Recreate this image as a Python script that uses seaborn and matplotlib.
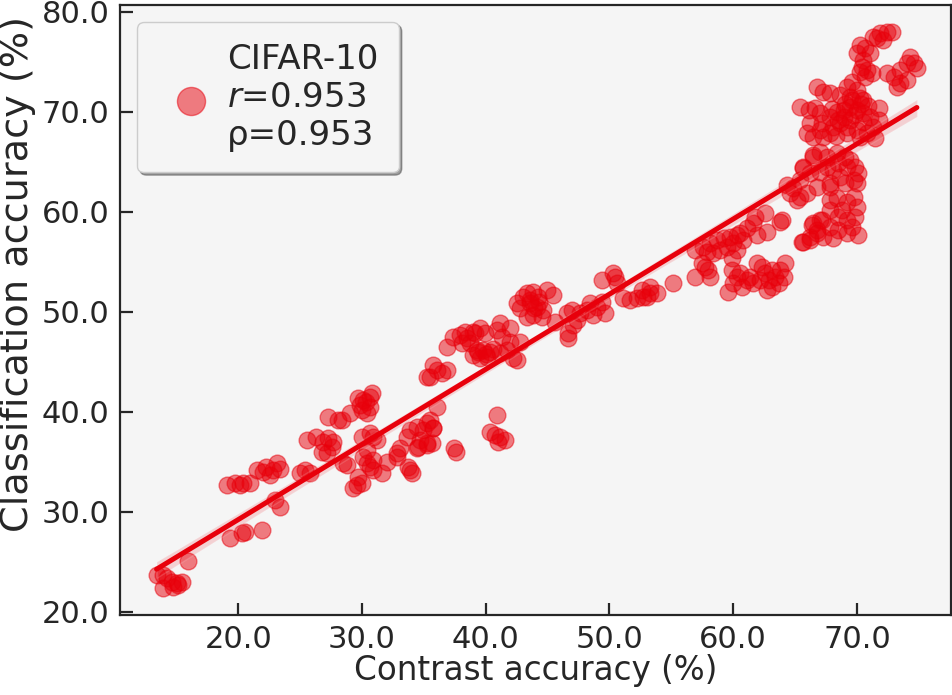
import matplotlib.pyplot as plt
import matplotlib.ticker as mticker
import numpy as np
import pandas as pd
import seaborn as sns

# Pontos, agrupados por região (x = contraste, y = classificação)
grupo_a_x = [13.4, 13.92, 14.62, 15.03, 15.43, 13.92, 14.73, 15.94, 14.24, 15.13]
grupo_a_y = [23.67, 23.67, 23.0, 22.87, 22.97, 22.37, 22.47, 25.07, 23.37, 22.67]

grupo_b_x = [19.07, 19.74, 20.39, 20.95, 21.5, 22.0, 22.57, 23.11, 23.38, 20.15, 22.25, 22.81,
             19.34, 20.28, 20.55, 21.9, 22.98, 23.38]
grupo_b_y = [32.67, 32.87, 32.87, 32.87, 34.17, 33.97, 33.67, 34.87, 34.27, 32.67, 34.47, 34.17,
             27.37, 27.87, 27.97, 28.17, 31.17, 30.47]

grupo_c_x = [25.54, 26.86, 27.26, 27.66, 27.56, 26.75, 27.15, 26.29, 25.0, 25.8, 25.4, 28.47, 28.8,
             27.26, 28.07, 28.39, 29.04, 29.85, 30.09, 30.65, 30.82, 30.41, 30.01, 30.65, 30.33, 29.68]
grupo_c_y = [37.17, 37.0, 37.37, 37.0, 36.5, 36.0, 35.87, 37.47, 33.87, 33.87, 34.17, 34.87, 34.67,
             39.47, 39.17, 39.17, 39.87, 40.67, 41.17, 41.47, 41.87, 39.87, 40.17, 40.47, 40.97, 41.37]

grupo_d_x = [29.98, 30.65, 30.9, 31.2, 30.39, 30.09, 30.39, 30.9, 30.65, 29.68, 29.58, 29.98, 29.28,
             30.9, 32.0, 31.6]
grupo_d_y = [37.5, 37.87, 37.5, 37.17, 36.17, 35.5, 34.87, 35.17, 34.5, 33.5, 32.67, 32.87, 32.37,
             34.17, 35.0, 33.87]

grupo_e_x = [32.81, 33.08, 33.62, 33.89, 34.43, 34.94, 34.7, 34.43, 35.24, 33.73, 33.89, 32.84,
             35.75, 34.53, 34.05, 36.05, 35.24, 35.51, 35.77, 35.64, 35.24, 37.4, 37.6,
             40.9, 40.36, 40.76, 41.16, 41.57, 41.0]
grupo_e_y = [35.87, 36.37, 37.5, 38.17, 38.5, 38.17, 37.17, 36.37, 36.87, 34.5, 34.17, 35.47,
             38.37, 36.47, 33.87, 40.5, 38.84, 39.17, 38.34, 36.84, 36.67, 36.4, 36.0,
             39.67, 38.0, 37.67, 37.5, 37.17, 37.0]

grupo_f_x = [35.51, 36.05, 36.45, 36.86, 35.75, 35.24,
             36.86, 37.39, 37.93, 38.47, 39.14, 39.55, 39.95, 38.74, 38.07, 39.28, 39.81, 40.36,
             41.16, 41.71, 42.24, 42.51, 41.97, 42.78, 41.16, 41.97, 40.9, 41.3, 40.09, 39.01,
             39.55, 39.4, 40.6, 38.3, 39.0, 40.0]
grupo_f_y = [43.5, 44.17, 43.87, 44.17, 44.67, 43.5,
             46.5, 47.5, 47.67, 47.34, 47.84, 48.34, 47.84, 46.84, 46.84, 46.17, 46.17, 46.0,
             45.84, 46.17, 45.34, 45.17, 47.0, 47.0, 48.84, 48.34, 48.17, 47.5, 45.5, 45.67,
             45.34, 46.0, 46.3, 48.0, 48.0, 45.8]

grupo_g_x = [42.51, 43.05, 43.32, 43.86, 44.26, 43.59, 44.13, 44.66, 43.86, 43.32, 42.78, 44.94,
             45.47, 44.54, 43.6, 43.9, 44.3, 45.61,
             46.56, 46.96, 47.36, 47.09, 46.69, 46.69, 47.63, 48.17, 48.44, 48.98, 49.39, 49.65, 48.71]
grupo_g_y = [50.84, 51.5, 51.84, 52.0, 51.5, 50.84, 50.5, 50.17, 49.67, 49.5, 50.34, 52.17,
             51.67, 49.5, 51.2, 50.4, 51.0, 49.0,
             49.84, 50.17, 49.17, 48.67, 47.84, 47.34, 49.84, 50.17, 50.84, 50.5, 51.0, 49.84, 49.67]

grupo_h_x = [49.39, 50.46, 50.6, 50.32, 51.13, 51.67, 52.22, 52.75, 53.29, 52.62, 53.83, 55.17,
             53.3, 53.0, 56.93, 57.74, 58.0, 58.14, 57.47]
grupo_h_y = [53.17, 53.5, 52.84, 53.84, 51.34, 51.17, 51.34, 51.5, 51.84, 52.17, 51.84, 52.84,
             52.5, 51.5, 53.5, 54.5, 54.17, 53.5, 54.84]

grupo_i_x = [56.93, 57.6, 58.14, 58.68, 59.22, 59.76, 60.3, 60.57, 60.02, 59.49, 58.95, 58.41,
             59.9, 60.3, 61.11, 61.64, 61.78, 62.59, 61.92, 62.72, 63.8, 60.83, 57.87]
grupo_i_y = [56.17, 56.5, 56.84, 57.17, 57.34, 57.5, 57.67, 57.84, 56.84, 56.5, 56.17, 55.84,
             55.34, 56.17, 58.34, 58.84, 59.5, 59.84, 57.67, 58.0, 59.0, 57.17, 56.0]

grupo_j_x = [59.62, 60.02, 60.3, 59.9, 60.7, 61.11, 61.64, 61.92, 62.32, 62.59, 62.86, 63.13,
             63.4, 63.8, 64.21, 64.07, 63.67, 62.72, 62.18, 61.37, 60.57, 63.13]
grupo_j_y = [52.0, 52.84, 53.5, 54.17, 52.5, 53.17, 52.84, 54.84, 54.5, 53.84, 53.17, 52.5,
             53.5, 54.17, 54.84, 53.5, 52.84, 52.17, 53.17, 53.5, 53.84, 54.17]

grupo_k_x = [65.68, 66.22, 66.77, 66.49, 67.17, 63.94, 64.61, 65.15, 67.84, 68.38, 69.19, 69.73,
             70.0, 69.87, 69.6, 70.13, 69.19, 68.51, 68.11, 67.3, 66.77, 66.22, 65.55, 67.03,
             68.51, 68.78, 67.84, 66.36, 69.19, 67.84]
grupo_k_y = [57.0, 57.5, 58.17, 58.84, 59.17, 59.17, 61.84, 61.17, 61.17, 61.34, 61.0, 61.5,
             60.5, 59.5, 58.5, 57.67, 57.84, 58.17, 57.34, 57.5, 57.84, 57.17, 57.0, 59.17,
             59.5, 60.17, 60.17, 58.67, 59.17, 58.5]

grupo_l_x = [66.49, 67.03, 67.58, 68.38, 69.05, 69.46, 69.87, 70.13, 69.73, 69.05, 68.65, 68.11,
             67.58, 67.03, 66.22, 65.68, 65.42, 64.87, 64.34, 65.42, 65.96, 66.77, 67.84, 67.84,
             69.19, 68.51, 70.0, 65.68, 66.49]
grupo_l_y = [65.67, 66.0, 65.5, 65.84, 65.5, 65.17, 64.5, 63.84, 63.17, 62.84, 63.5, 64.17,
             64.5, 64.0, 63.84, 64.34, 63.17, 62.34, 62.67, 61.5, 61.84, 62.5, 62.84, 62.5,
             64.5, 64.84, 62.84, 64.5, 65.5]

grupo_m_x = [65.42, 66.09, 66.63, 67.03, 66.22, 65.96, 66.49, 67.3, 67.84, 67.17, 67.84, 68.38,
             68.92, 69.46, 70.0, 70.53, 71.07, 71.75, 71.75, 71.34, 70.81, 70.27, 70.0, 69.19,
             68.65, 68.92, 69.46, 71.48, 68.11, 67.03, 68.5, 69.0, 69.8, 70.3, 69.6, 68.0,
             70.5, 69.2, 68.3, 70.9]
grupo_m_y = [70.5, 70.17, 70.34, 69.84, 68.84, 67.84, 67.5, 67.5, 67.84, 68.84, 69.5, 70.0,
             70.17, 70.5, 70.17, 69.84, 69.5, 70.34, 69.17, 68.5, 67.84, 67.5, 68.17, 68.5,
             68.84, 69.5, 69.17, 67.34, 68.5, 68.17, 69.2, 70.8, 69.7, 70.8, 71.2, 70.3,
             69.0, 67.9, 67.6, 70.6]

grupo_n_x = [71.34, 71.88, 72.43, 72.83, 72.15, 71.62, 70.27, 70.0, 70.67, 71.07, 70.53, 70.4,
             70.81, 71.21, 70.67, 70.27, 72.43, 72.96, 73.5, 74.04, 74.31, 74.58, 74.85, 74.04,
             73.5, 73.23, 69.19, 69.6, 70.0, 69.46, 70.27, 70.53, 66.77, 67.3, 67.85, 68.66]
grupo_n_y = [77.5, 77.84, 78.0, 78.0, 77.17, 77.34, 76.67, 75.84, 76.34, 75.84, 75.17, 74.5,
             74.17, 73.84, 73.5, 74.0, 73.84, 73.5, 74.17, 74.84, 75.5, 74.84, 74.34, 73.17,
             72.84, 72.5, 72.5, 73.0, 72.17, 71.5, 71.34, 71.17, 72.5, 72.0, 71.84, 71.67]

ROTULO = "CIFAR-10\n$r$=0.953\nρ=0.953"
COR = "#e8000b"

grupos_x = [grupo_a_x, grupo_b_x, grupo_c_x, grupo_d_x, grupo_e_x, grupo_f_x, grupo_g_x,
            grupo_h_x, grupo_i_x, grupo_j_x, grupo_k_x, grupo_l_x, grupo_m_x, grupo_n_x]
grupos_y = [grupo_a_y, grupo_b_y, grupo_c_y, grupo_d_y, grupo_e_y, grupo_f_y, grupo_g_y,
            grupo_h_y, grupo_i_y, grupo_j_y, grupo_k_y, grupo_l_y, grupo_m_y, grupo_n_y]

df = pd.DataFrame({
    "contraste": np.concatenate(grupos_x),
    "classificacao": np.concatenate(grupos_y),
})

sns.set_theme(style="ticks")
plt.rcParams.update({
    "font.family": ["DejaVu Sans"],
    "axes.facecolor": "#f5f5f5",
    "axes.edgecolor": "#262626",
    "axes.linewidth": 1.6,
    "xtick.direction": "in",
    "ytick.direction": "in",
    "xtick.major.size": 9,
    "ytick.major.size": 9,
    "xtick.major.width": 1.6,
    "ytick.major.width": 1.6,
})

fig = plt.figure(figsize=(9.52, 6.95), dpi=100)
ax = fig.add_axes([0.126, 0.115, 0.8726, 0.8778])

sns.regplot(
    data=df, x="contraste", y="classificacao", ax=ax, color=COR,
    label=ROTULO,
    scatter_kws={"s": 145, "alpha": 0.5, "edgecolor": COR, "linewidths": 1},
    line_kws={"lw": 3.6},
)

ax.set_xlim(10.44, 77.58)
ax.set_ylim(19.67, 80.67)
ax.xaxis.set_major_locator(mticker.MultipleLocator(10))
ax.yaxis.set_major_locator(mticker.MultipleLocator(10))
ax.xaxis.set_major_formatter(mticker.FormatStrFormatter("%.1f"))
ax.yaxis.set_major_formatter(mticker.FormatStrFormatter("%.1f"))
ax.tick_params(labelsize=22, pad=7.5, colors="#262626", top=False, right=False)
ax.set_xlabel("Contrast accuracy (%)", fontsize=23.5, labelpad=0)
ax.set_ylabel("Classification accuracy (%)", fontsize=27.5)
ax.yaxis.set_label_coords(-0.101, 0.559)

leg = ax.legend(
    loc="upper left", fontsize=24.5, fancybox=True, shadow=True, framealpha=1,
    markerscale=1.68, handletextpad=0.05, borderpad=0.6, borderaxespad=0,
    bbox_to_anchor=(0.0205, 0.972),
)
leg.get_frame().set_facecolor("#f5f5f5")
leg.get_frame().set_edgecolor("#cccccc")

fig.savefig("out.png", dpi=100)
